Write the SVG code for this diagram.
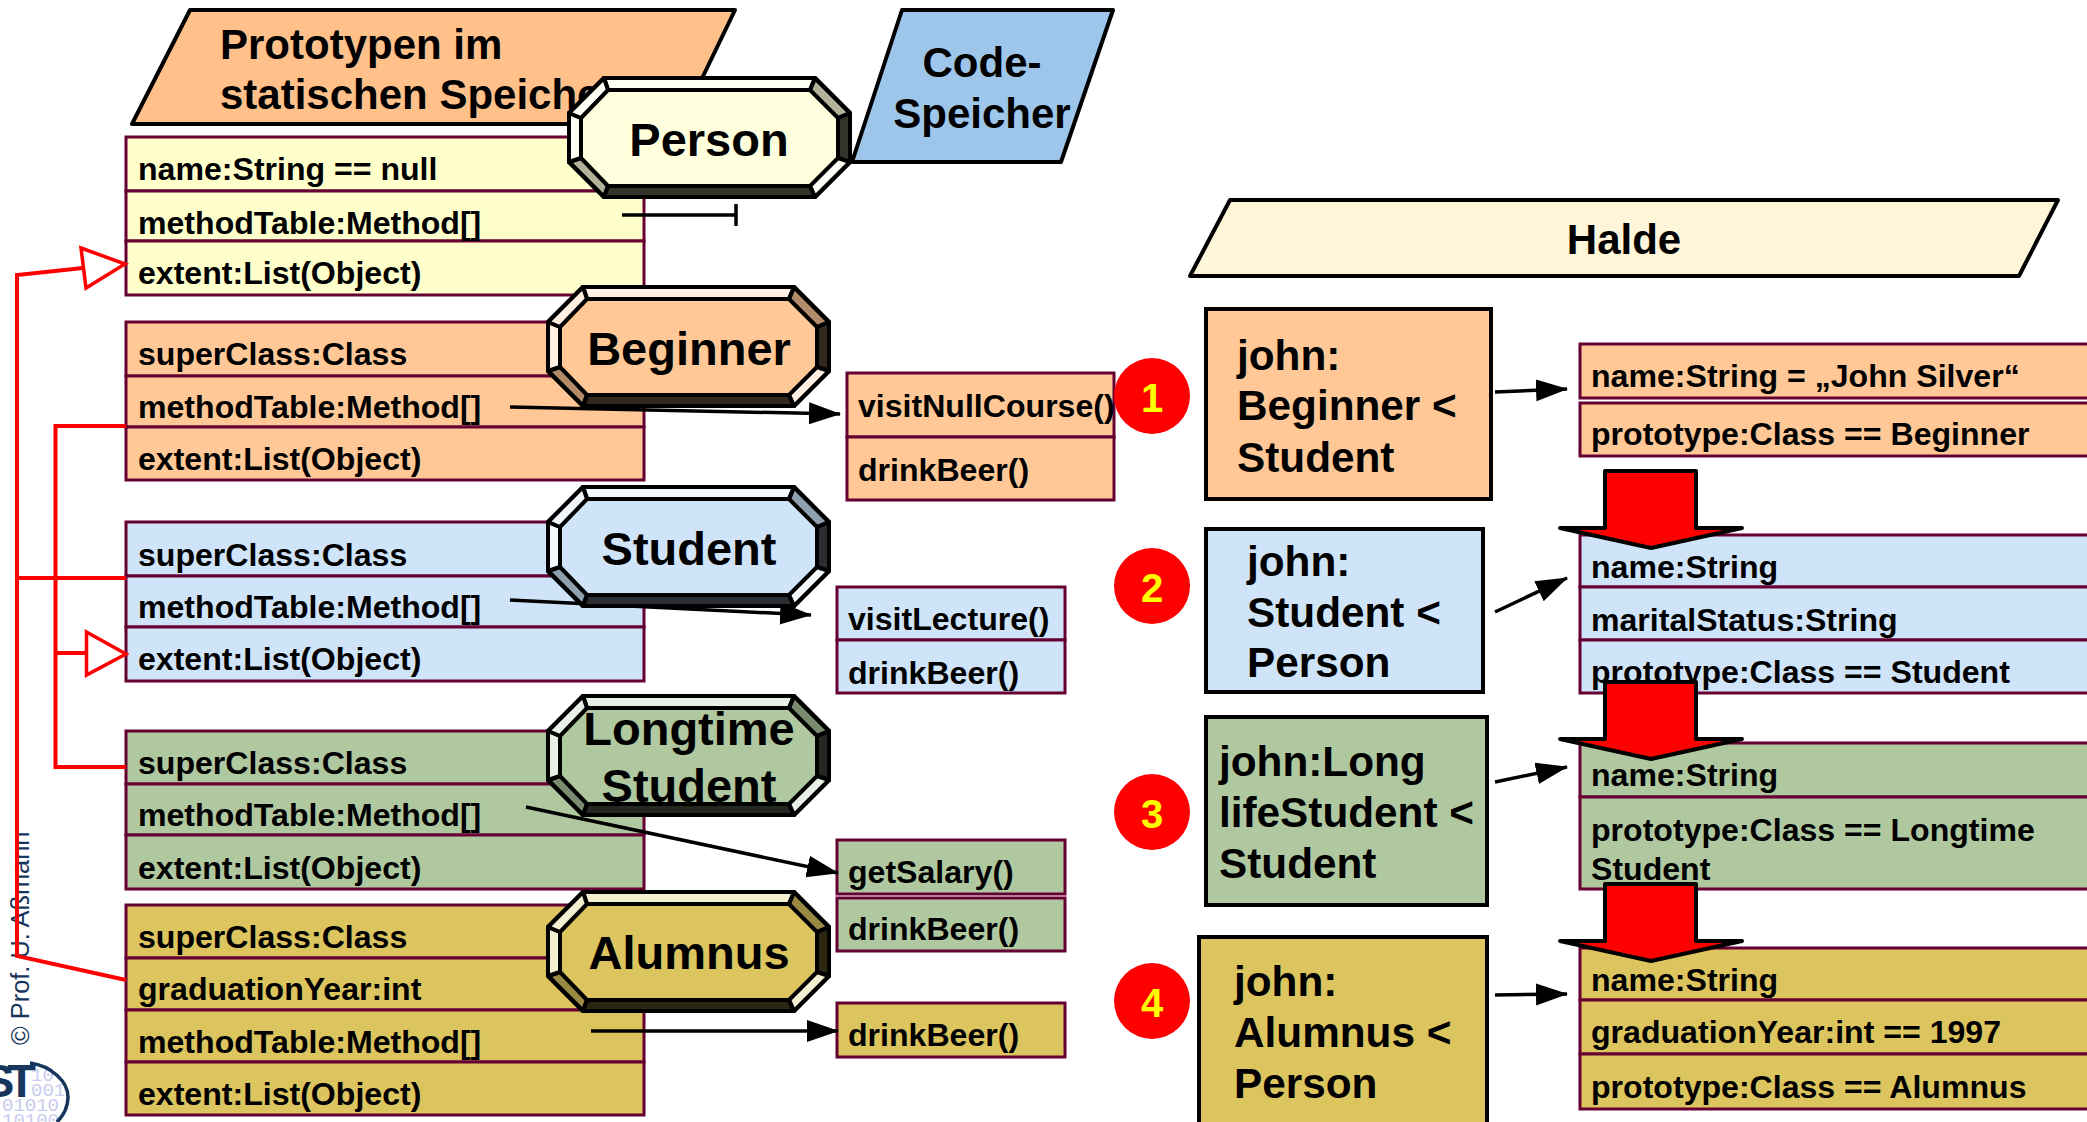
<svg xmlns="http://www.w3.org/2000/svg" width="2087" height="1122" viewBox="0 0 2087 1122">
<style>
text{font-family:"Liberation Sans",Arial,sans-serif;font-weight:700;fill:#000}
.t{font-size:32.1px}
.h{font-size:42px}
.n{font-size:47px;text-anchor:middle}
.o{font-size:42.3px}
.num{font-size:40px;text-anchor:middle;fill:#ff0;stroke:none}
.cell{stroke:#660033;stroke-width:3}
.para{stroke:#000;stroke-width:4;stroke-linejoin:round}
.box{stroke:#000;stroke-width:4}
.dot{fill:#f00}
.red{fill:none;stroke:#f00;stroke-width:4}
.gen{fill:#fff;stroke:#f00;stroke-width:3.5}
.blk{fill:none;stroke:#000;stroke-width:3.5}
.bigred{fill:#f00;stroke:#000;stroke-width:4;stroke-linejoin:round}
.y{fill:#ffffcc}.or{fill:#ffc896}.b{fill:#cfe4f9}.g{fill:#b0c8a0}.go{fill:#dcc45f}
.bev{stroke:#000;stroke-width:4;stroke-linejoin:round}
.bin{font-family:"Liberation Mono",monospace;font-weight:400;font-size:19px;fill:#c8ccee}
</style>
<defs>
<marker id="ah" markerWidth="34" markerHeight="24" refX="31" refY="11" markerUnits="userSpaceOnUse" orient="auto"><path d="M0 0L32 11L0 22Z" fill="#000"/></marker>
<g id="octa">
<polygon class="bev" points="35,0 246,0 281,35 281,84 246,119 35,119 0,84 0,35" fill="none"/>
<polygon class="bev" fill="#fff" fill-opacity=".72" points="35,0 246,0 241,12 39,12"/>
<polygon class="bev" fill="#000" fill-opacity=".3" points="246,0 281,35 269,40 241,12"/>
<polygon class="bev" fill="#000" fill-opacity=".8" points="281,35 281,84 269,80 269,40"/>
<polygon class="bev" fill="#fff" fill-opacity=".72" points="281,84 246,119 241,108 269,80"/>
<polygon class="bev" fill="#000" fill-opacity=".8" points="246,119 35,119 39,108 241,108"/>
<polygon class="bev" fill="#000" fill-opacity=".3" points="35,119 0,84 12,80 39,108"/>
<polygon class="bev" fill="#fff" fill-opacity=".72" points="0,84 0,35 12,40 12,80"/>
<polygon class="bev" fill="#fff" fill-opacity=".72" points="0,35 35,0 39,12 12,40"/>
</g>
<polygon id="oct" points="35,0 246,0 281,35 281,84 246,119 35,119 0,84 0,35"/>
<polygon id="big" points="47,-57 138,-57 138,0 184,0 93,20 2,0 47,0"/>
</defs>

<g id="copyright">
<text transform="translate(29 1045) rotate(-90)" style="font-weight:400;font-size:25.4px;fill:#17365d">© Prof. U. Aßmann</text>
</g>
<g id="logo">
<text class="bin" x="31" y="1081">10</text>
<text class="bin" x="31" y="1096">001</text>
<text class="bin" x="2" y="1111">01010</text>
<text class="bin" x="2" y="1126">10100</text>
<text x="29" y="1097" text-anchor="end" letter-spacing="-7" style="font-size:47px;fill:#17365d">ST</text>
<path d="M30 1063C52 1066 68 1082 68 1097C68 1107 63 1116 57 1122" fill="none" stroke="#17365d" stroke-width="3.5"/>
</g>

<g id="header-static"><polygon class="para" points="190,10 735,10 680,124 132,124" fill="#ffc08a"/>
<text class="h" x="220" y="59">Prototypen im</text><text class="h" x="220" y="109">statischen Speicher</text></g>
<g id="header-code"><polygon class="para" points="902,10 1113,10 1061,162 852,162" fill="#9dc6ea"/>
<text class="h" x="982" y="77" text-anchor="middle">Code-</text><text class="h" x="982" y="128" text-anchor="middle">Speicher</text></g>
<g id="header-heap"><polygon class="para" points="1230,200 2058,200 2019,276 1190,276" fill="#fff5d8"/>
<text class="h" x="1624" y="254" text-anchor="middle">Halde</text></g>

<g id="table-person">
<rect class="cell y" x="126" y="137" width="518" height="54"/><rect class="cell y" x="126" y="191" width="518" height="50"/><rect class="cell y" x="126" y="241" width="518" height="54"/>
<text class="t" x="138" y="180">name:String == null</text><text class="t" x="138" y="234">methodTable:Method[]</text><text class="t" x="138" y="284">extent:List(Object)</text>
</g>
<g id="table-beginner">
<rect class="cell or" x="126" y="322" width="518" height="54"/><rect class="cell or" x="126" y="376" width="518" height="51"/><rect class="cell or" x="126" y="427" width="518" height="53"/>
<text class="t" x="138" y="365">superClass:Class</text><text class="t" x="138" y="418">methodTable:Method[]</text><text class="t" x="138" y="470">extent:List(Object)</text>
</g>
<g id="table-student">
<rect class="cell b" x="126" y="522" width="518" height="54"/><rect class="cell b" x="126" y="576" width="518" height="51"/><rect class="cell b" x="126" y="627" width="518" height="54"/>
<text class="t" x="138" y="566">superClass:Class</text><text class="t" x="138" y="618">methodTable:Method[]</text><text class="t" x="138" y="670">extent:List(Object)</text>
</g>
<g id="table-longtime">
<rect class="cell g" x="126" y="731" width="518" height="53"/><rect class="cell g" x="126" y="784" width="518" height="51"/><rect class="cell g" x="126" y="835" width="518" height="54"/>
<text class="t" x="138" y="774">superClass:Class</text><text class="t" x="138" y="826">methodTable:Method[]</text><text class="t" x="138" y="879">extent:List(Object)</text>
</g>
<g id="table-alumnus">
<rect class="cell go" x="126" y="905" width="518" height="53"/><rect class="cell go" x="126" y="958" width="518" height="52"/><rect class="cell go" x="126" y="1010" width="518" height="52"/><rect class="cell go" x="126" y="1062" width="518" height="53"/>
<text class="t" x="138" y="948">superClass:Class</text><text class="t" x="138" y="1000">graduationYear:int</text><text class="t" x="138" y="1053">methodTable:Method[]</text><text class="t" x="138" y="1105">extent:List(Object)</text>
</g>

<g id="methods-beginner">
<rect class="cell or" x="847" y="373" width="267" height="64"/><rect class="cell or" x="847" y="437" width="267" height="63"/>
<text class="t" x="858" y="417">visitNullCourse()</text><text class="t" x="858" y="481">drinkBeer()</text>
</g>
<g id="methods-student">
<rect class="cell b" x="837" y="587" width="228" height="53"/><rect class="cell b" x="837" y="640" width="228" height="53"/>
<text class="t" x="848" y="630">visitLecture()</text><text class="t" x="848" y="684">drinkBeer()</text>
</g>
<g id="methods-longtime">
<rect class="cell g" x="837" y="840" width="228" height="54"/><rect class="cell g" x="837" y="898" width="228" height="53"/>
<text class="t" x="848" y="883">getSalary()</text><text class="t" x="848" y="940">drinkBeer()</text>
</g>
<g id="methods-alumnus">
<rect class="cell go" x="837" y="1003" width="228" height="54"/>
<text class="t" x="848" y="1046">drinkBeer()</text>
</g>

<g id="connectors">
<path class="blk" d="M622 215H736M736 204V226"/>
<path class="blk" d="M510 407L840 414" marker-end="url(#ah)"/>
<path class="blk" d="M510 600L811 615" marker-end="url(#ah)"/>
<path class="blk" d="M526 807L838 873" marker-end="url(#ah)"/>
<path class="blk" d="M591 1031H838" marker-end="url(#ah)"/>
<path class="red" d="M83 268L17 275V956L126 980M17 578H126M126 426H55.5V767H126M55.5 653H86"/>
<polygon class="gen" points="81,248 125,264 86,288"/>
<polygon class="gen" points="86.5,632 126,654 86.5,675"/>
<path class="blk" d="M1495 392L1567 389" marker-end="url(#ah)"/>
<path class="blk" d="M1495 612L1567 578" marker-end="url(#ah)"/>
<path class="blk" d="M1495 782L1567 767" marker-end="url(#ah)"/>
<path class="blk" d="M1495 995L1567 994" marker-end="url(#ah)"/>
</g>

<g id="node-person"><use href="#oct" x="569" y="78" fill="#ffffdd"/><use href="#octa" x="569" y="78"/><text class="n" x="709" y="156">Person</text></g>
<g id="node-beginner"><use href="#oct" x="548" y="287" fill="#ffc896"/><use href="#octa" x="548" y="287"/><text class="n" x="689" y="365">Beginner</text></g>
<g id="node-student"><use href="#oct" x="548" y="487" fill="#cfe4f9"/><use href="#octa" x="548" y="487"/><text class="n" x="689" y="565">Student</text></g>
<g id="node-longtime"><use href="#oct" x="548" y="696" fill="#b0c8a0"/><use href="#octa" x="548" y="696"/><text class="n" x="689" y="745">Longtime</text><text class="n" x="689" y="802">Student</text></g>
<g id="node-alumnus"><use href="#oct" x="548" y="892" fill="#dcc45f"/><use href="#octa" x="548" y="892"/><text class="n" x="689" y="969">Alumnus</text></g>

<g id="badge-1"><ellipse class="dot" cx="1152" cy="396" rx="38" ry="38"/><text class="num" x="1152" y="412">1</text></g>
<g id="badge-2"><ellipse class="dot" cx="1152" cy="586" rx="38" ry="38"/><text class="num" x="1152" y="602">2</text></g>
<g id="badge-3"><ellipse class="dot" cx="1152" cy="812" rx="38" ry="38"/><text class="num" x="1152" y="828">3</text></g>
<g id="badge-4"><ellipse class="dot" cx="1152" cy="1001" rx="38" ry="38"/><text class="num" x="1152" y="1017">4</text></g>

<g id="object-beginner"><rect class="box or" x="1206" y="309" width="285" height="190"/><text class="o" x="1237" y="370">john:</text><text class="o" x="1237" y="420">Beginner &lt;</text><text class="o" x="1237" y="472">Student</text></g>
<g id="object-student"><rect class="box b" x="1206" y="529" width="277" height="163"/><text class="o" x="1247" y="576">john:</text><text class="o" x="1247" y="627">Student &lt;</text><text class="o" x="1247" y="677">Person</text></g>
<g id="object-longtime"><rect class="box g" x="1206" y="717" width="281" height="188"/><text class="o" x="1219" y="776">john:Long</text><text class="o" x="1219" y="827">lifeStudent &lt;</text><text class="o" x="1219" y="878">Student</text></g>
<g id="object-alumnus"><rect class="box go" x="1199" y="937" width="288" height="195"/><text class="o" x="1234" y="996">john:</text><text class="o" x="1234" y="1047">Alumnus &lt;</text><text class="o" x="1234" y="1098">Person</text></g>

<g id="instance-beginner">
<rect class="cell or" x="1580" y="344" width="520" height="54"/><rect class="cell or" x="1580" y="403" width="520" height="53"/>
<text class="t" x="1591" y="387">name:String = „John Silver“</text><text class="t" x="1591" y="445">prototype:Class == Beginner</text>
</g>
<g id="instance-student">
<rect class="cell b" x="1580" y="535" width="520" height="52"/><rect class="cell b" x="1580" y="587" width="520" height="53"/><rect class="cell b" x="1580" y="640" width="520" height="53"/>
<text class="t" x="1591" y="578">name:String</text><text class="t" x="1591" y="631">maritalStatus:String</text><text class="t" x="1591" y="683">prototype:Class == Student</text>
</g>
<g id="instance-longtime">
<rect class="cell g" x="1580" y="743" width="520" height="54"/><rect class="cell g" x="1580" y="797" width="520" height="92"/>
<text class="t" x="1591" y="786">name:String</text><text class="t" x="1591" y="841">prototype:Class == Longtime</text><text class="t" x="1591" y="880">Student</text>
</g>
<g id="instance-alumnus">
<rect class="cell go" x="1580" y="948" width="520" height="52"/><rect class="cell go" x="1580" y="1000" width="520" height="54"/><rect class="cell go" x="1580" y="1054" width="520" height="55"/>
<text class="t" x="1591" y="991">name:String</text><text class="t" x="1591" y="1043">graduationYear:int == 1997</text><text class="t" x="1591" y="1098">prototype:Class == Alumnus</text>
</g>

<g id="inherit-arrows">
<use href="#big" class="bigred" x="1558" y="528"/>
<use href="#big" class="bigred" x="1558" y="739"/>
<use href="#big" class="bigred" x="1558" y="941"/>
</g>
</svg>
